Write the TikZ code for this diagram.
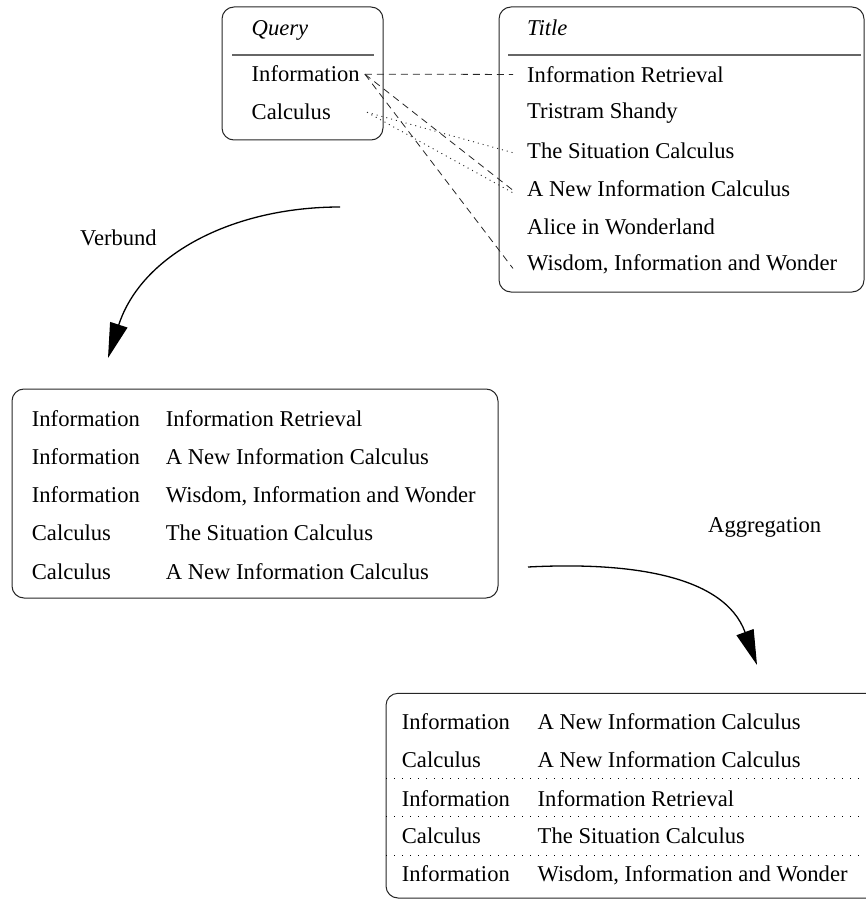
\documentclass[tikz,border=0pt]{standalone}
\usepackage{fontspec}
\setmainfont{Liberation Serif}
\usetikzlibrary{arrows.meta}
\begin{document}
\begin{tikzpicture}[x=1pt,y=-1pt,
  txt/.style={anchor=base west,inner sep=0pt,font=\fontsize{22.6}{27}\selectfont},
  hd/.style={anchor=base west,inner sep=0pt,font=\fontsize{22.6}{27}\selectfont\itshape},
  frame/.style={draw=black!85,line width=1pt,rounded corners=12pt},
  rulel/.style={draw=black!60,line width=1.4pt},
  sepl/.style={draw=black,line width=1pt,dash pattern=on 1pt off 7pt},
  dlink/.style={draw=black!85,line width=0.8pt,dash pattern=on 7pt off 5pt},
  olink/.style={draw=black!85,line width=0.9pt,dash pattern=on 1pt off 4pt},
  bigarrow/.style={draw,line width=1.3pt,-{Triangle[length=35pt,width=18pt]}},
]
\useasboundingbox (0,0) rectangle (865,901);

% Query box
\draw[frame] (222,7) rectangle (383,140);
\draw[rulel] (232,55) -- (374,55);
\node[hd] (qh) at (251.5,36) {Query};
\node[txt] (q1) at (251.5,82) {Information};
\node[txt] (q2) at (251.5,120) {Calculus};

% Title box
\draw[frame] (499,7) rectangle (864,292);
\draw[rulel] (508,55) -- (861,55);
\node[hd] (th) at (527,36) {Title};
\node[txt] (t1) at (527,82.3) {Information Retrieval};
\node[txt] (t2) at (527,118.3) {Tristram Shandy};
\node[txt] (t3) at (527,159) {The Situation Calculus};
\node[txt] (t4) at (527,196.7) {A New Information Calculus};
\node[txt] (t5) at (527,234) {Alice in Wonderland};
\node[txt] (t6) at (527,270.7) {Wisdom, Information and Wonder};

% links
\draw[dlink] ([xshift=5pt]q1.east) -- ([xshift=-14pt]t1.west);
\draw[dlink] ([xshift=5pt]q1.east) -- ([xshift=-12pt,yshift=-3pt]t4.west);
\draw[dlink] ([xshift=5pt]q1.east) -- ([xshift=-14pt,yshift=-4pt]t6.west);
\draw[olink] ([xshift=36pt]q2.east) -- ([xshift=-12pt,yshift=-2pt]t3.west);
\draw[olink] ([xshift=36pt]q2.east) -- ([xshift=-14pt,yshift=-4pt]t4.west);

% Verbund arrow
\coordinate (v1) at (340,207);
\coordinate (v2) at (108,358);
\draw[bigarrow] (v1) to[out=180,in=72] (v2);
\node[txt] (vl) at (80,245) {Verbund};

% joined table
\draw[frame] (12,389) rectangle (498,598);
\node[txt] (m1a) at (31.7,426.7) {Information};
\node[txt] (m1b) at (165.7,426.7) {Information Retrieval};
\node[txt] (m2a) at (31.7,464.5) {Information};
\node[txt] (m2b) at (165.7,464.5) {A New Information Calculus};
\node[txt] (m3a) at (31.7,502.5) {Information};
\node[txt] (m3b) at (165.7,502.5) {Wisdom, Information and Wonder};
\node[txt] (m4a) at (31.7,540) {Calculus};
\node[txt] (m4b) at (165.7,540) {The Situation Calculus};
\node[txt] (m5a) at (31.7,579) {Calculus};
\node[txt] (m5b) at (165.7,579) {A New Information Calculus};

% Aggregation arrow
\coordinate (a1) at (528,567);
\coordinate (a2) at (757,665);
\draw[bigarrow] (a1) to[out=3,in=110] (a2);
\node[txt] (al) at (708,532) {Aggregation};

% aggregated table
\draw[frame] (386,693.3) rectangle (880,898);
\draw[sepl] (386,778.7) -- (865,778.7);
\draw[sepl] (386,816.7) -- (865,816.7);
\draw[sepl] (386,855) -- (865,855);
\node[txt] (b1a) at (401.7,729.3) {Information};
\node[txt] (b1b) at (537.5,729.3) {A New Information Calculus};
\node[txt] (b2a) at (401.7,767) {Calculus};
\node[txt] (b2b) at (537.5,767) {A New Information Calculus};
\node[txt] (b3a) at (401.7,806) {Information};
\node[txt] (b3b) at (537.5,806) {Information Retrieval};
\node[txt] (b4a) at (401.7,843) {Calculus};
\node[txt] (b4b) at (537.5,843) {The Situation Calculus};
\node[txt] (b5a) at (401.7,881.7) {Information};
\node[txt] (b5b) at (537.5,881.7) {Wisdom, Information and Wonder};
\end{tikzpicture}
\end{document}
